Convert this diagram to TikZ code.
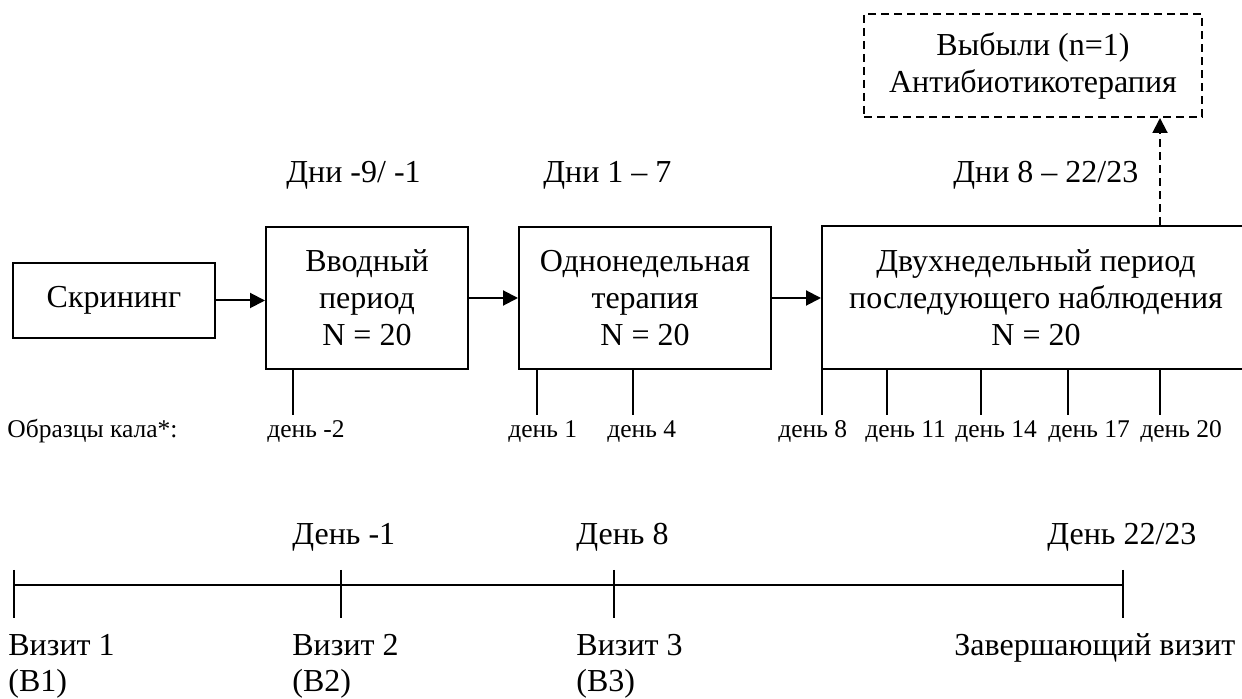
\documentclass[tikz,border=0pt]{standalone}
\usepackage{fontspec}
\setmainfont{Liberation Serif}
\usetikzlibrary{arrows.meta}

\begin{document}
\begin{tikzpicture}[x=0.5pt, y=-0.5pt,
  every node/.style = {font=\fontsize{16}{18.5}\selectfont, align=center},
  block/.style = {shape=rectangle, draw, line width=1pt, inner sep=0pt},
  lbl/.style = {anchor=base west, inner sep=0pt},
  small/.style = {lbl, font=\fontsize{12.75}{15}\selectfont},
  flow/.style = {line width=1pt, -{Triangle[length=7.5pt, width=7.5pt]}},
  dashline/.style = {line width=1pt, dash pattern=on 4pt off 2.5pt}]

  \path[use as bounding box, clip] (0,0) rectangle (1242,699);

  % periods
  \node[block, minimum width=101pt, minimum height=37.5pt] (scr) at (114,300.5) {Скрининг};
  \node[block, minimum width=101pt, minimum height=71pt] (vvod) at (367,298) {Вводный\\период\\N = 20};
  \node[block, minimum width=126pt, minimum height=71pt] (odno) at (645,298) {Однонедельная\\терапия\\N = 20};
  \node[block, minimum width=214pt, minimum height=71.5pt] (dvuh) at (1036,297.5) {Двухнедельный период\\последующего наблюдения\\N = 20};
  \node[block, dashline, minimum width=169pt, minimum height=51.5pt] (drop) at (1033,65.5) {Выбыли (n=1)\\Антибиотикотерапия};

  \draw[flow] (scr.east) -- (scr.east -| vvod.west);
  \draw[flow] (vvod.east) -- (vvod.east -| odno.west);
  \draw[flow] (odno.east) -- (odno.east -| dvuh.west);
  \coordinate (out) at (1160,0);
  \draw[dashline, -{Triangle[length=7.5pt, width=7.5pt]}] (dvuh.north -| out) -- (drop.south -| out);

  \node[lbl] (dni1) at (286,183) {Дни -9/ -1};
  \node[lbl] (dni2) at (543,183) {Дни 1 – 7};
  \node[lbl] (dni3) at (953,183) {Дни 8 – 22/23};

  % stool samples
  \node[small] (kal) at (7,438) {Образцы кала*:};
  \foreach \blk/\x/\lx/\day in {vvod/293/267/-2, odno/537/508/1, odno/633/607/4,
      dvuh/822/778/8, dvuh/887/865/11, dvuh/981/955/14, dvuh/1068/1048/17, dvuh/1160/1140/20} {
    \draw[line width=1pt] (\blk.south -| \x,0) -- (\x,415);
    \node[small] (s\day) at (\lx,438) {день \day};
  }

  % visits
  \coordinate (v1) at (14,585);
  \coordinate (v2) at (341,585);
  \coordinate (v3) at (614,585);
  \coordinate (v4) at (1123,585);
  \draw[line width=1.2pt] (v1) -- (v4);
  \foreach \v in {v1,v2,v3,v4}
    \draw[line width=1pt] (\v) ++(0,-15) -- ++(0,48);

  \node[lbl] (t2) at (292,545) {День -1};
  \node[lbl] (t3) at (576,545) {День 8};
  \node[lbl] (t4) at (1047,545) {День 22/23};
  \node[lbl] (viz1) at (8,655) {Визит 1};
  \node[lbl] (b1) at (8,691) {(В1)};
  \node[lbl] (viz2) at (292,655) {Визит 2};
  \node[lbl] (b2) at (292,691) {(В2)};
  \node[lbl] (viz3) at (576,655) {Визит 3};
  \node[lbl] (b3) at (576,691) {(В3)};
  \node[lbl] (viz4) at (954,655) {Завершающий визит};

\end{tikzpicture}
\end{document}
